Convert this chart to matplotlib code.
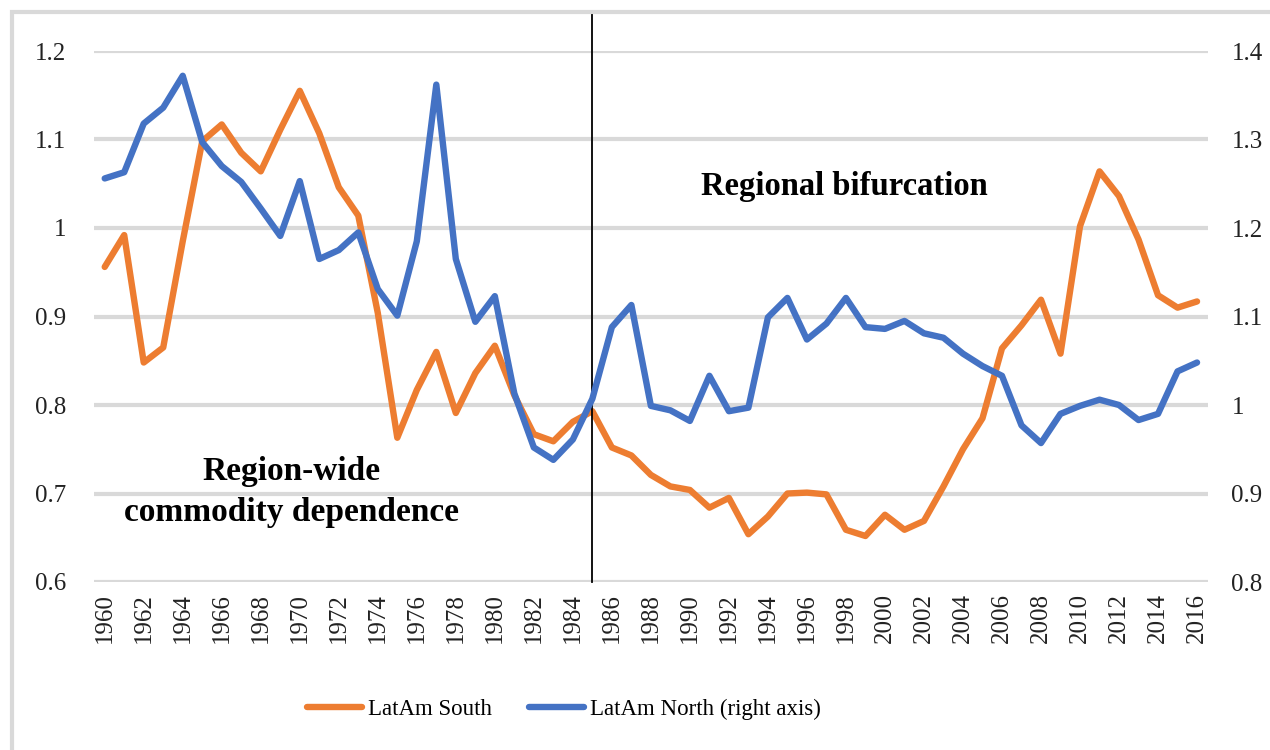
import matplotlib.pyplot as plt
from matplotlib.patches import Rectangle

# Data
years = list(range(1960, 2017))

latam_south = [0.956, 0.992, 0.848, 0.865, 0.985, 1.098, 1.117, 1.085, 1.064, 1.111,
               1.155, 1.107, 1.046, 1.014, 0.904, 0.763, 0.817, 0.860, 0.791, 0.836,
               0.867, 0.811, 0.767, 0.759, 0.781, 0.793, 0.752, 0.743, 0.721, 0.708,
               0.704, 0.684, 0.695, 0.654, 0.674, 0.700, 0.701, 0.699, 0.659, 0.652,
               0.676, 0.659, 0.669, 0.708, 0.750, 0.785, 0.864, 0.890, 0.919, 0.858,
               1.002, 1.064, 1.036, 0.987, 0.924, 0.910, 0.917]

latam_north = [1.256, 1.263, 1.318, 1.336, 1.372, 1.297, 1.270, 1.252, 1.222, 1.191,
               1.253, 1.165, 1.175, 1.195, 1.131, 1.101, 1.185, 1.362, 1.165, 1.094,
               1.123, 1.013, 0.952, 0.938, 0.961, 1.007, 1.088, 1.113, 0.999, 0.994,
               0.982, 1.033, 0.993, 0.997, 1.099, 1.121, 1.074, 1.092, 1.121, 1.088,
               1.086, 1.095, 1.081, 1.076, 1.058, 1.044, 1.033, 0.977, 0.957, 0.990,
               0.999, 1.006, 1.000, 0.983, 0.990, 1.038, 1.048]

left_ticks = [0.6, 0.7, 0.8, 0.9, 1.0, 1.1, 1.2]
right_ticks = [0.8, 0.9, 1.0, 1.1, 1.2, 1.3, 1.4]
divide_year = 1985

plt.rcParams['font.family'] = ['Liberation Serif', 'DejaVu Serif']

orange = '#ED7D31'
blue = '#4472C4'
grid_col = '#D9D9D9'

fig = plt.figure(figsize=(12.7, 7.5), dpi=100)
# light border around the chart area
fig.patches.append(Rectangle((12 / 1270, -0.1), 1.1, 1 - 12 / 750 + 0.1,
                             transform=fig.transFigure, fill=False,
                             edgecolor=grid_col, linewidth=3))

ax = fig.add_axes([0.074, 0.224, 0.877, 0.708])
ax2 = ax.twinx()

# gridlines (left axis)
for t in left_ticks:
    ax.axhline(t, color=grid_col, lw=3, zorder=0)

l1, = ax.plot(years, latam_south, color=orange, lw=4.6, solid_capstyle='round',
              solid_joinstyle='round', label='LatAm South', zorder=3)
l2, = ax2.plot(years, latam_north, color=blue, lw=4.6, solid_capstyle='round',
               solid_joinstyle='round', label='LatAm North (right axis)', zorder=3)

ax.axvline(divide_year, ymin=0, ymax=1.073, color='black', lw=1.3, clip_on=False, zorder=4)

ax.set_xlim(years[0] - 0.55, years[-1] + 0.55)
ax.set_ylim(0.6, 1.2)
ax2.set_ylim(0.8, 1.4)

ax.set_yticks(left_ticks)
ax.set_yticklabels([f'{t:g}' for t in left_ticks])
ax2.set_yticks(right_ticks)
ax2.set_yticklabels([f'{t:g}' for t in right_ticks])
ax.set_xticks(years[::2])
ax.set_xticklabels([str(y) for y in years[::2]], rotation=90)

for a in (ax, ax2):
    for s in a.spines.values():
        s.set_visible(False)
    a.tick_params(length=0, labelsize=18, colors='#222222')
ax.tick_params(axis='y', pad=20)
ax2.tick_params(axis='y', pad=17)
ax.tick_params(axis='x', pad=8)

ax.text(1997.9, 1.047, 'Regional bifurcation', fontsize=23.5, fontweight='bold',
        ha='center', va='center', zorder=5)
ax.text(1969.6, 0.702, 'Region-wide\ncommodity dependence', fontsize=24,
        fontweight='bold', ha='center', va='center', linespacing=1.4, zorder=5)

fig.legend(handles=[l1, l2], loc='lower center', bbox_to_anchor=(0.444, 0.012),
           ncol=2, frameon=False, fontsize=16.5, handlelength=2.4,
           handletextpad=0.25, columnspacing=1.6)

fig.savefig('out.png', dpi=100)
